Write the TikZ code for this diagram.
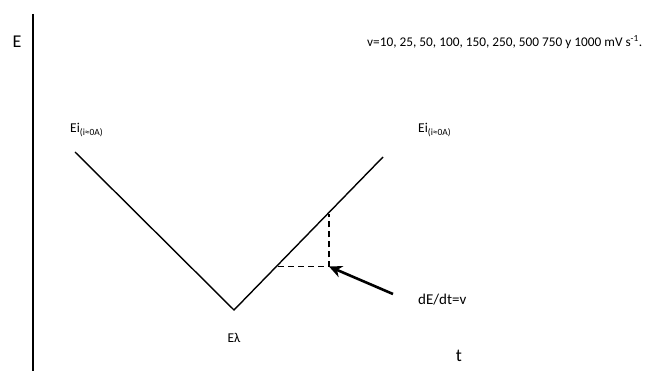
\documentclass[tikz,border=0pt]{standalone}
\usepackage{fontspec}
\setmainfont{Carlito}
\usetikzlibrary{arrows.meta}

\begin{document}
\begin{tikzpicture}[
    x=1pt, y=-1pt,
    curve/.style={line width=1.4pt},
    guide/.style={dash pattern=on 6pt off 4pt, line width=1.5pt},
    pointer/.style={-{Stealth[length=13pt,width=12pt]}, line width=2.6pt},
    lbl/.style={inner sep=0pt, font=\fontsize{13.3}{16}\selectfont},
    big/.style={inner sep=0pt, font=\fontsize{18}{20}\selectfont},
    sublbl/.style={inner sep=0pt, font=\fontsize{13.5}{15}\selectfont}
]
    \useasboundingbox (0,0) rectangle (653,371);
    % axis
    \draw[line width=2.6pt] (33,14) -- (33,371);
    \node[big] (E) at (17,42) {E};
    \node[big] (t) at (459,356) {t};
    \node[lbl, anchor=west] (rates) at (367,42) {v=10, 25, 50, 100, 150, 250, 500 750 y 1000 mV s\textsuperscript{-1}.};

    % potential sweep
    \coordinate (start) at (75,152);
    \coordinate (vertex) at (234,310);
    \coordinate (end) at (383,157);
    \draw[curve] (start) -- (vertex) -- (end);
    \node[sublbl, anchor=west] (eileft) at (70,130) {Ei\textsubscript{(i≈0A)}};
    \node[sublbl, anchor=west] (eiright) at (418,130) {Ei\textsubscript{(i≈0A)}};
    \node[sublbl] (elambda) at (234,338) {Eλ};

    % slope triangle
    \coordinate (lo) at (278,266.5);
    \coordinate (hi) at (329,214);
    \coordinate (corner) at (329,266.5);
    \draw[guide] (lo) -- (corner) -- (hi);
    \node[lbl, anchor=west, font=\fontsize{15}{17}\selectfont] (slope) at (418,300) {dE/dt=v};
    \coordinate (tail) at (393,294);
    \draw[pointer] (tail) -- (corner);
\end{tikzpicture}
\end{document}
